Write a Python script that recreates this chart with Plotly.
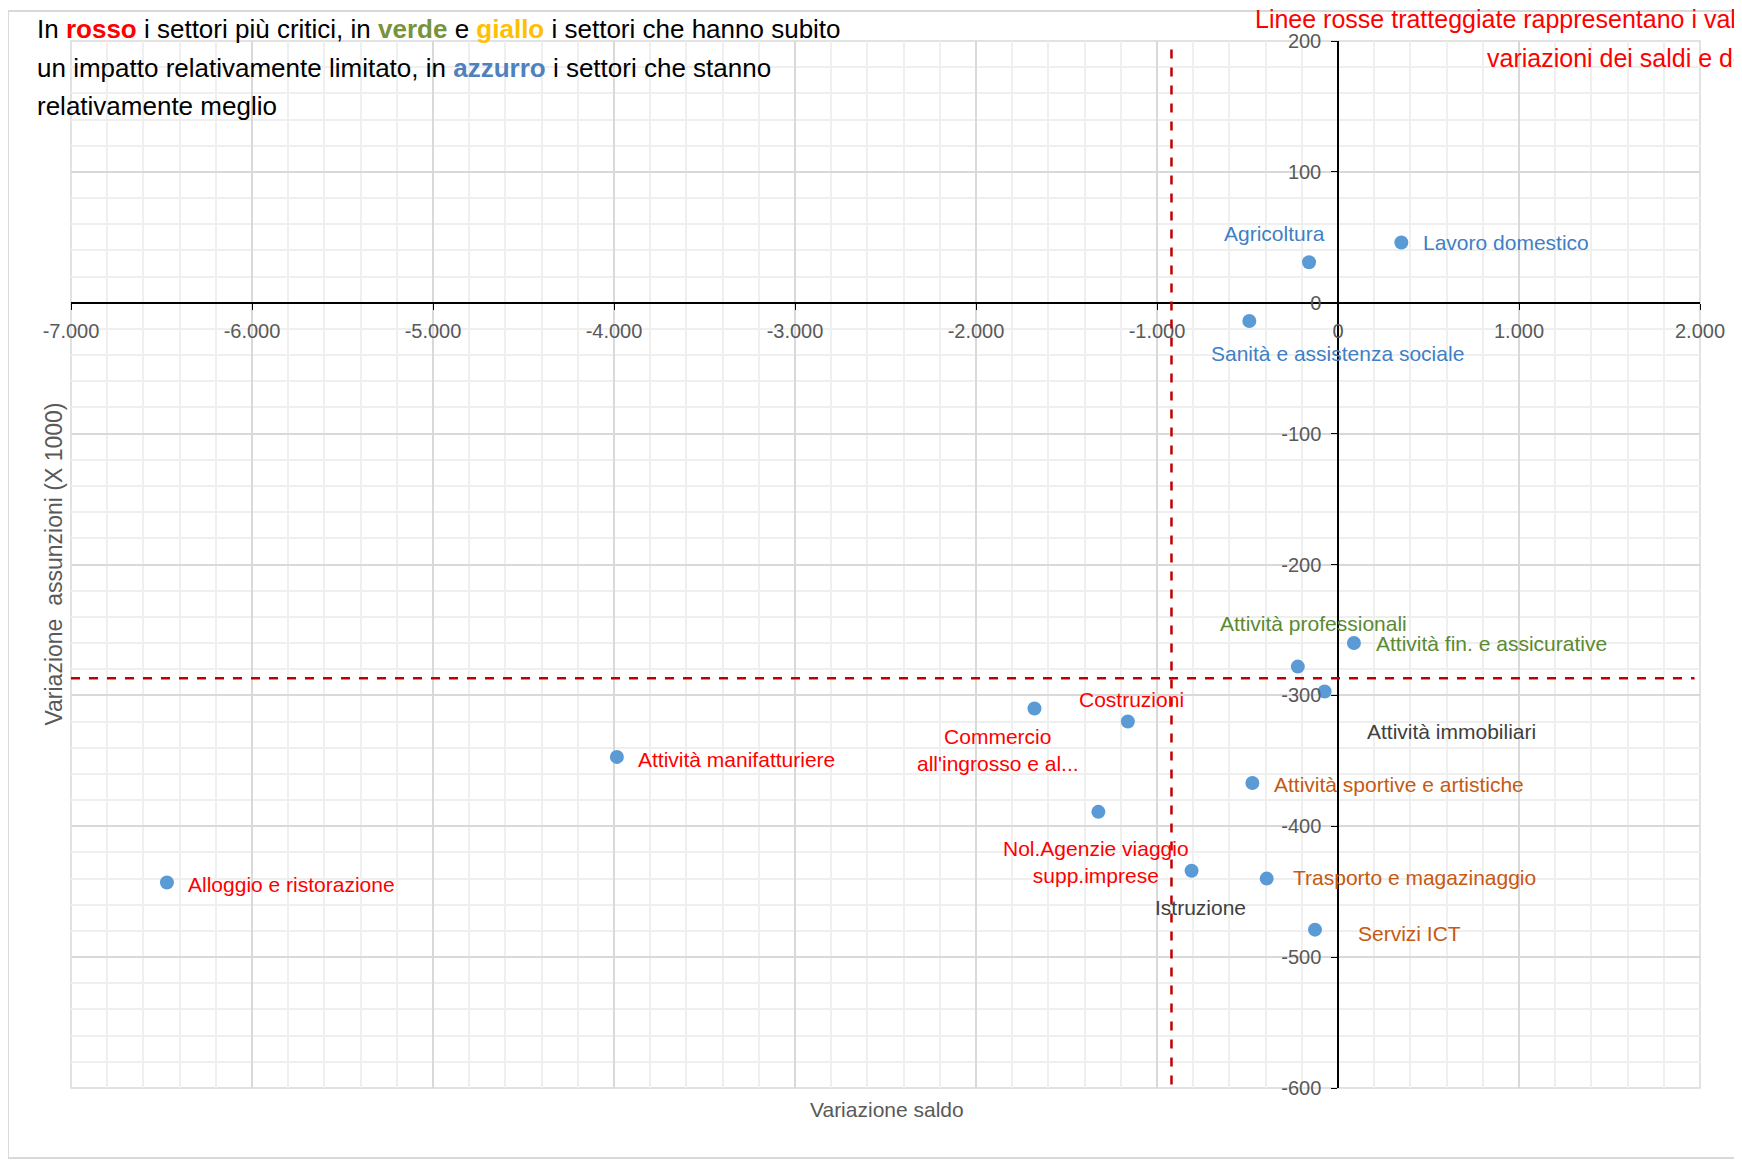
import plotly.graph_objects as go

# ---- data ----
sectors = [
    "Lavoro domestico", "Agricoltura", "Sanità e assistenza sociale",
    "Attività fin. e assicurative", "Attività professionali", "Attività immobiliari",
    "Costruzioni", "Commercio<br>all'ingrosso e al...", "Attività manifatturiere",
    "Alloggio e ristorazione", "Nol.Agenzie viaggio<br>supp.imprese", "Istruzione",
    "Attività sportive e artistiche", "Trasporto e magazinaggio", "Servizi ICT",
]
saldo = [350, -160, -490, 88, -222, -74, -1161, -1677, -3984, -6470, -1324, -809, -473, -394, -127]
assunzioni = [46, 31, -14, -260, -278, -297, -320, -310, -347, -443, -389, -434, -367, -440, -479]
groups = ["blue", "blue", "blue", "green", "green", "gray", "red", "red", "red", "red",
          "red", "gray", "orange", "orange", "orange"]
mean_saldo = -920
mean_assunzioni = -287

x_ticks = [-7000, -6000, -5000, -4000, -3000, -2000, -1000, 0, 1000, 2000]
x_ticktext = ["-7.000", "-6.000", "-5.000", "-4.000", "-3.000", "-2.000", "-1.000", "0", "1.000", "2.000"]
y_ticks = [200, 100, 0, -100, -200, -300, -400, -500, -600]
y_ticktext = ["200", "100", "0", "-100", "-200", "-300", "-400", "-500", "-600"]

title_lines = [
    "In <b><span style='color:#ff0000'>rosso</span></b> i settori più critici, in "
    "<b><span style='color:#77933c'>verde</span></b> e "
    "<b><span style='color:#ffc000'>giallo</span></b> i settori che hanno subito",
    "un impatto relativamente limitato, in "
    "<b><span style='color:#4f81bd'>azzurro</span></b> i settori che stanno",
    "relativamente meglio",
]
note_lines = [
    "Linee rosse tratteggiate rappresentano i valori medi delle",
    "variazioni dei saldi e delle assunzioni",
]

# ---- styles ----
FONT = "Liberation Sans, Arial, sans-serif"
group_colors = {"blue": "#3f7fc4", "green": "#5a8a32", "gray": "#404040",
                "red": "#ff0000", "orange": "#c55a11"}
# (xanchor, xshift px, yshift px)
label_pos = {
    "Lavoro domestico": ("left", 20, 0),
    "Agricoltura": ("right", 18, 29),
    "Sanità e assistenza sociale": ("left", -40, -32),
    "Attività fin. e assicurative": ("left", 20, 0),
    "Attività professionali": ("left", -80, 43),
    "Attività immobiliari": ("left", 40, -40),
    "Costruzioni": ("left", -51, 22),
    "Commercio<br>all'ingrosso e al...": ("center", -36, -42),
    "Attività manifatturiere": ("left", 19, -3),
    "Alloggio e ristorazione": ("left", 19, -2),
    "Nol.Agenzie viaggio<br>supp.imprese": ("center", -2, -50),
    "Istruzione": ("center", 9, -37),
    "Attività sportive e artistiche": ("left", 20, -1),
    "Trasporto e magazinaggio": ("left", 24, 1),
    "Servizi ICT": ("left", 41, -4),
}

xr = [-7000, 2000]
yr = [-600, 200]

fig = go.Figure()
fig.add_trace(go.Scatter(
    x=saldo, y=assunzioni, mode="markers",
    marker=dict(size=14, color="#5b9bd5"),
    hoverinfo="skip", showlegend=False,
))

for name, xv, yv, g in zip(sectors, saldo, assunzioni, groups):
    xa, xs, ys = label_pos[name]
    fig.add_annotation(x=xv, y=yv, text=name, showarrow=False, xanchor=xa,
                       yanchor="middle", xshift=xs, yshift=ys, align="center",
                       font=dict(family=FONT, size=21, color=group_colors[g]))

# mean lines
fig.add_shape(type="line", x0=mean_saldo, x1=mean_saldo, y0=-611, y1=196,
              line=dict(color="#c00000", width=2.5, dash="dash"))
fig.add_shape(type="line", x0=-7000, x1=1970, y0=mean_assunzioni, y1=mean_assunzioni,
              line=dict(color="#c00000", width=2.5, dash="dash"))

# plot border + outer chart border
fig.add_shape(type="rect", xref="paper", yref="paper", x0=0, x1=1, y0=0, y1=1,
              line=dict(color="#d9d9d9", width=1.5), layer="below")
fig.add_shape(type="rect", xref="paper", yref="paper", x0=-0.0387, x1=1.2, y0=-0.0669, y1=1.0287,
              line=dict(color="#d9d9d9", width=2), layer="below")

for txt, yp in zip(title_lines, [1.0115, 0.9742, 0.9379]):
    fig.add_annotation(xref="paper", yref="paper", x=-0.0218, y=yp, xanchor="left", yanchor="middle",
                       text=txt, showarrow=False, align="left",
                       font=dict(family=FONT, size=26, color="#000000"))
for txt, xp, yp in zip(note_lines, [0.7256, 0.868], [1.0210, 0.9838]):
    fig.add_annotation(xref="paper", yref="paper", x=xp, y=yp, xanchor="left", yanchor="middle",
                       text=txt, showarrow=False, align="left",
                       font=dict(family=FONT, size=25, color="#ff0000"))

fig.add_annotation(xref="paper", yref="paper", x=0.501, y=-0.021, xanchor="center", yanchor="middle",
                   text="Variazione saldo", showarrow=False,
                   font=dict(family=FONT, size=21, color="#595959"))
fig.add_annotation(xref="paper", yref="paper", x=-0.011, y=0.5, xanchor="center", yanchor="middle",
                   text="Variazione  assunzioni (X 1000)", showarrow=False, textangle=-90,
                   font=dict(family=FONT, size=23, color="#595959"))

fig.update_layout(
    width=1742, height=1160,
    margin=dict(l=63, r=50, t=33, b=80),
    paper_bgcolor="white", plot_bgcolor="white",
    xaxis=dict(range=xr, tickmode="array", tickvals=x_ticks, ticktext=x_ticktext,
               anchor="free", position=0.75, showline=True, linecolor="#000000", linewidth=1.5,
               ticks="outside", ticklen=6, tickcolor="#000000", zeroline=False,
               ticklabelstandoff=4,
               showgrid=True, gridcolor="#d9d9d9", gridwidth=1.5,
               tickfont=dict(family=FONT, size=20, color="#595959"),
               minor=dict(tickmode="linear", tick0=0, dtick=200, showgrid=True,
                          gridcolor="#efefef", gridwidth=1.5, ticks="")),
    yaxis=dict(range=yr, tickmode="array", tickvals=y_ticks, ticktext=y_ticktext,
               anchor="free", position=7000 / 9000, showline=True, linecolor="#000000", linewidth=1.5,
               ticks="outside", ticklen=6, tickcolor="#000000", zeroline=False,
               ticklabelstandoff=6,
               showgrid=True, gridcolor="#d9d9d9", gridwidth=1.5,
               tickfont=dict(family=FONT, size=20, color="#595959"),
               minor=dict(tickmode="linear", tick0=0, dtick=20, showgrid=True,
                          gridcolor="#efefef", gridwidth=1.5, ticks="")),
)

fig.write_html("out.html")
